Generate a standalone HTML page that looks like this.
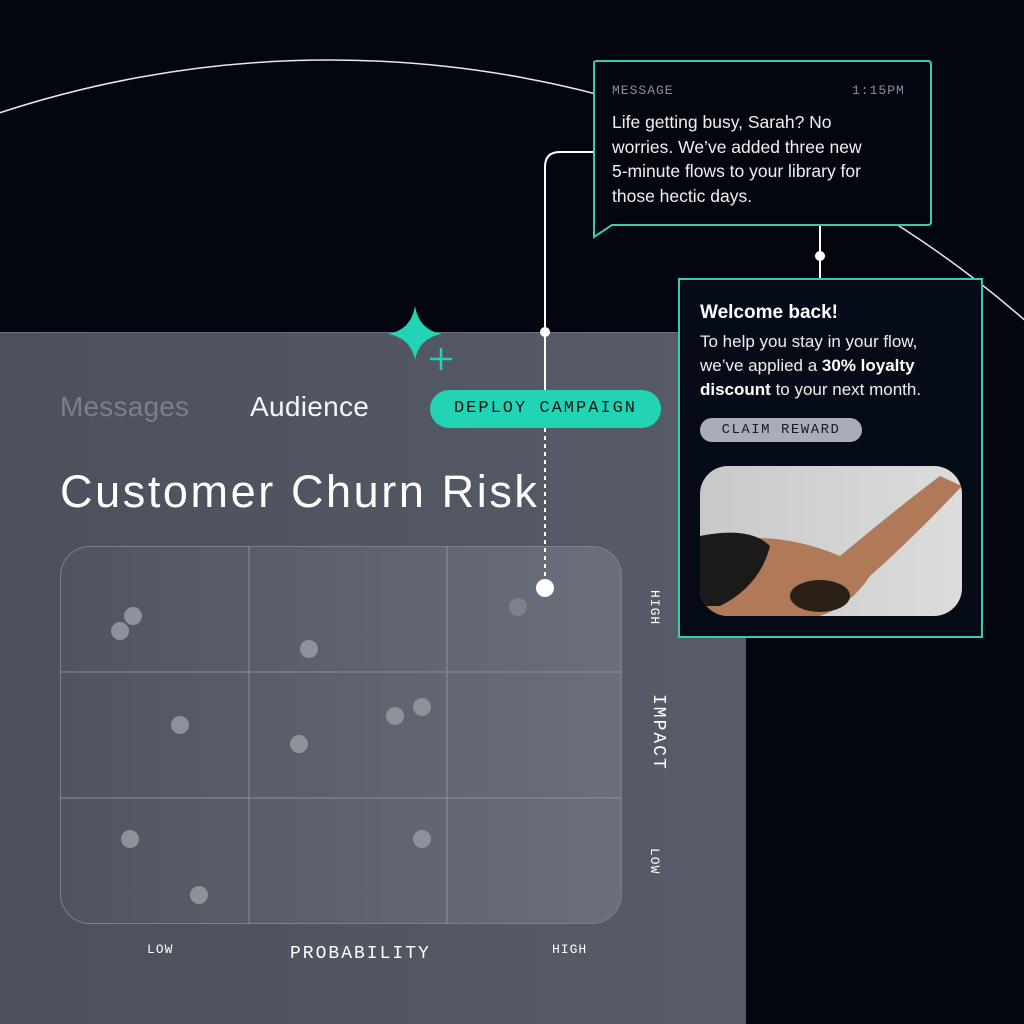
<!DOCTYPE html>
<html><head><meta charset="utf-8"><style>
html,body{margin:0;width:1024px;height:1024px;overflow:hidden}
body{background:#03060f;position:relative;font-family:"Liberation Sans",sans-serif}
.abs{position:absolute}
.mono{font-family:"Liberation Mono",monospace}
</style></head><body>
<svg class="abs" style="left:0;top:0" width="1024" height="1024">
<ellipse cx="330" cy="1100" rx="1050" ry="1040" fill="none" stroke="#e8e8ee" stroke-width="1.5"/>
</svg>
<div class="abs" style="left:0;top:332px;width:746px;height:692px;background:linear-gradient(90deg,#4b505c,#575c68);border-top:1px solid #6a6f7a;box-sizing:border-box"></div>
<div class="abs" style="left:60px;top:546px;width:562px;height:378px;border-radius:30px;background:linear-gradient(90deg,#4f5460,#6a6f7b);border:1px solid #7a7f8a;box-sizing:border-box"></div>
<svg class="abs" style="left:0;top:0" width="1024" height="1024">
<g stroke="#8a8f99" stroke-width="1">
<line x1="249" y1="546" x2="249" y2="924"/><line x1="447" y1="546" x2="447" y2="924"/>
<line x1="60" y1="672" x2="622" y2="672"/><line x1="60" y1="798" x2="622" y2="798"/>
</g>
<g fill="#8d919a">
<circle cx="133" cy="616" r="9"/><circle cx="120" cy="631" r="9"/><circle cx="309" cy="649" r="9"/><circle cx="518" cy="607" r="9" fill="#7d828d"/>
<circle cx="180" cy="725" r="9"/><circle cx="299" cy="744" r="9"/><circle cx="395" cy="716" r="9"/><circle cx="422" cy="707" r="9"/>
<circle cx="130" cy="839" r="9"/><circle cx="199" cy="895" r="9"/><circle cx="422" cy="839" r="9"/>
</g>
<path d="M595 152 H560 Q545 152 545 167 V390" fill="none" stroke="#fff" stroke-width="2"/>
<line x1="545" y1="428" x2="545" y2="588" stroke="#fff" stroke-width="2" stroke-dasharray="4 4"/>
<circle cx="545" cy="332" r="5" fill="#fff"/>
<circle cx="545" cy="588" r="9" fill="#fff"/>
<line x1="820" y1="225" x2="820" y2="278" stroke="#fff" stroke-width="2"/>
<circle cx="820" cy="256" r="5" fill="#fff"/>
<path d="M594 63 Q594 61 597 61 H928 Q931 61 931 64 V222 Q931 225 928 225 H612 L594 237 Z" fill="#03060f" stroke="#3cc9ae" stroke-width="2"/>
<path d="M415 306 Q419 330 442 334 Q419 338 415 360 Q411 338 388 334 Q411 330 415 306Z" fill="#22d3b4"/>
<g stroke="#22d3b4" stroke-width="2.5"><line x1="441" y1="348" x2="441" y2="370"/><line x1="430" y1="359" x2="452" y2="359"/></g>
</svg>
<div class="abs mono" style="left:612px;top:83px;font-size:13px;color:#8b8f99;letter-spacing:1px">MESSAGE</div>
<div class="abs mono" style="left:852px;top:83px;font-size:13px;color:#8b8f99;letter-spacing:1px">1:15PM</div>
<div class="abs" style="left:612px;top:110px;white-space:nowrap;font-size:17.5px;line-height:24.5px;color:#f0f0f0">Life getting busy, Sarah? No<br>worries. We’ve added three new<br>5-minute flows to your library for<br>those hectic days.</div>
<div class="abs" style="left:678px;top:278px;width:305px;height:360px;background:#060b18;border:2px solid #3cc9ae;box-sizing:border-box"></div>
<div class="abs" style="left:700px;top:302px;font-size:19px;font-weight:bold;color:#fff">Welcome back!</div>
<div class="abs" style="left:700px;top:330px;white-space:nowrap;font-size:17px;line-height:24px;color:#eee">To help you stay in your flow,<br>we’ve applied a <b style="color:#fff">30% loyalty</b><br><b style="color:#fff">discount</b> to your next month.</div>
<div class="abs mono" style="left:700px;top:418px;width:162px;height:24px;border-radius:12px;background:#a9adb7;color:#1a1d25;font-size:14px;line-height:24px;text-align:center;letter-spacing:1.5px">CLAIM REWARD</div>
<div class="abs" style="left:700px;top:466px;width:262px;height:150px;border-radius:28px;overflow:hidden;background:linear-gradient(90deg,#c9c9c9,#dcdcdc)">
<svg width="262" height="150"><path d="M0 80 Q70 60 140 90 Q200 40 240 10 L262 20 Q215 70 170 110 Q150 140 120 150 H0Z" fill="#b07a58"/><path d="M0 70 Q50 60 70 80 Q60 120 20 140 H0Z" fill="#1a1a1a"/><ellipse cx="120" cy="130" rx="30" ry="16" fill="#2a2018"/></svg></div>
<div class="abs" style="left:60px;top:391px;font-size:28px;color:#7a7f8a;letter-spacing:0.2px">Messages</div>
<div class="abs" style="left:250px;top:391px;font-size:28px;color:#f4f4f4;letter-spacing:0.3px">Audience</div>
<div class="abs mono" style="left:430px;top:390px;width:231px;height:38px;border-radius:19px;background:#22d3b4;color:#0a1a1a;font-size:17px;line-height:38px;text-align:center;letter-spacing:2px">DEPLOY CAMPAIGN</div>
<div class="abs" style="left:60px;top:466px;font-size:45px;color:#fff;letter-spacing:2.6px">Customer Churn Risk</div>
<div class="abs mono" style="left:147px;top:942px;font-size:13px;color:#fff;letter-spacing:1px">LOW</div>
<div class="abs mono" style="left:290px;top:944px;font-size:18px;color:#fff;letter-spacing:2px">PROBABILITY</div>
<div class="abs mono" style="left:552px;top:942px;font-size:13px;color:#fff;letter-spacing:1px">HIGH</div>
<div class="abs mono" style="top:590px;font-size:13px;color:#fff;letter-spacing:1px;transform:rotate(90deg);transform-origin:left top;left:662px">HIGH</div>
<div class="abs mono" style="left:668px;top:694px;font-size:18px;color:#fff;letter-spacing:2px;transform:rotate(90deg);transform-origin:left top">IMPACT</div>
<div class="abs mono" style="left:662px;top:848px;font-size:13px;color:#fff;letter-spacing:1px;transform:rotate(90deg);transform-origin:left top">LOW</div>
</body></html>
